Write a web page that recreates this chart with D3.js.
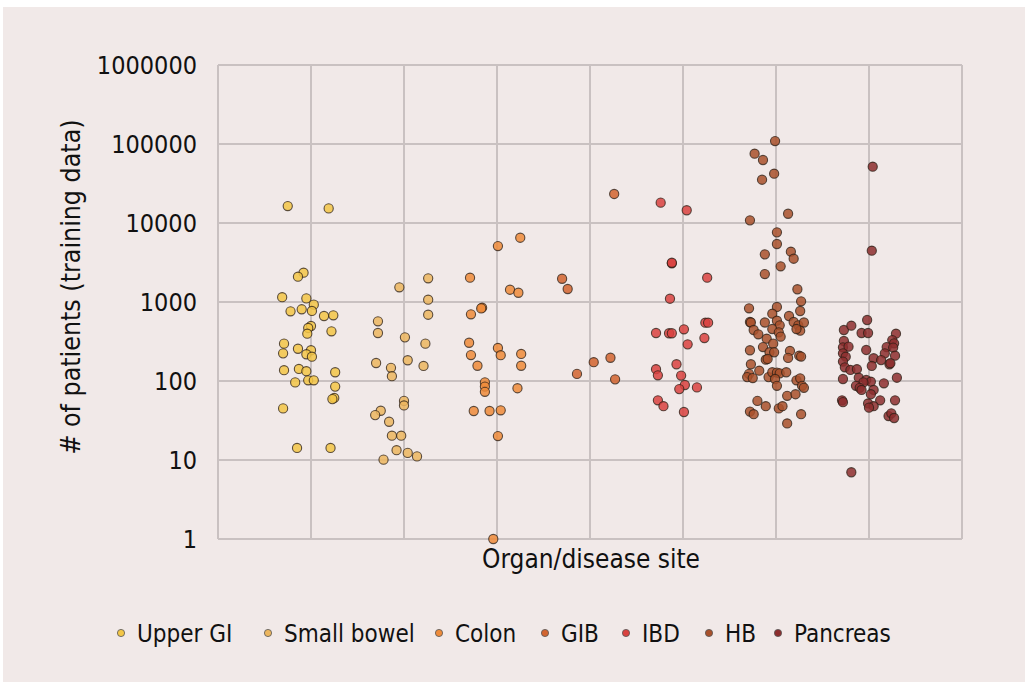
<!DOCTYPE html>
<html>
<head>
<meta charset="utf-8">
<script src="https://cdn.jsdelivr.net/npm/d3@7"></script>
<style>
  html, body { margin: 0; padding: 0; background: #ffffff; }
  svg { display: block; }
  text { font-family: "DejaVu Sans Condensed", "DejaVu Sans", sans-serif; fill: #111; }
</style>
</head>
<body>
<svg width="1025" height="682"></svg>
<script>
// categories (x position 1..7 on the scatter), colours
var seriesNames = ["Upper GI", "Small bowel", "Colon", "GIB", "IBD", "HB", "Pancreas"];
var seriesColors = ["#f3c647", "#ecb65f", "#ee8b3a", "#d2642f", "#d9423f", "#a9512b", "#8d2e2e"];
var yTicks = [1, 10, 100, 1000, 10000, 100000, 1000000];

// # of patients, with the horizontal jitter (in category units)
var upperGIValues = [16400, 15300, 2350, 2090, 1150, 1110, 925, 763, 809, 770, 665, 679, 497, 469, 397, 426, 297, 224, 256, 245, 218, 203, 137, 142, 133, 129, 96, 102, 102, 85, 61, 59, 45, 14.2, 14.2];
var upperGIJitter = [-0.25, 0.19, -0.08, -0.14, -0.31, -0.05, 0.03, -0.22, -0.10, 0.01, 0.14, 0.24, 0.00, -0.03, -0.04, 0.22, -0.29, -0.30, -0.14, 0.00, -0.05, 0.01, -0.29, -0.13, -0.05, 0.26, -0.17, -0.03, 0.03, 0.26, 0.25, 0.23, -0.30, -0.15, 0.21];

var smallBowelValues = [1995, 1535, 1070, 690, 570, 405, 357, 297, 169, 147, 183, 155, 115, 56, 49, 42, 37, 30.5, 20.3, 20.3, 13.3, 12.3, 11.1, 10.1];
var smallBowelJitter = [0.26, -0.05, 0.26, 0.26, -0.28, -0.28, 0.01, 0.23, -0.30, -0.14, 0.04, 0.21, -0.13, 0.00, 0.00, -0.25, -0.31, -0.16, -0.13, -0.03, -0.08, 0.04, 0.14, -0.22];

var colonValues = [6510, 5110, 2030, 1430, 1310, 847, 830, 699, 305, 262, 212, 220, 213, 156, 156, 96, 85, 73, 81, 41.7, 41.7, 42.6, 20.1, 1];
var colonJitter = [0.25, 0.01, -0.29, 0.14, 0.23, -0.16, -0.17, -0.28, -0.30, 0.01, 0.04, 0.26, -0.28, -0.21, 0.26, -0.13, -0.13, -0.13, 0.22, -0.25, -0.08, 0.04, 0.01, -0.04];

var gibValues = [23300, 1970, 1460, 197, 173, 123, 105];
var gibJitter = [0.26, -0.30, -0.24, 0.22, 0.04, -0.14, 0.27];

var ibdValues = [18100, 14500, 3090, 3140, 2030, 1100, 547, 547, 405, 402, 402, 451, 350, 291, 163, 141, 118, 117, 89, 79, 83, 57, 48, 40.5];
var ibdJitter = [-0.24, 0.04, -0.12, -0.12, 0.26, -0.14, 0.24, 0.27, -0.29, -0.15, -0.12, 0.01, 0.23, 0.05, -0.07, -0.29, -0.27, -0.02, 0.02, -0.04, 0.15, -0.27, -0.21, 0.01];

var hbValues = [109000, 75400, 62700, 42100, 35300, 13100, 10800, 7620, 5420, 4010, 4330, 3530, 2830, 2260, 1450, 1020, 832, 865, 711, 769, 665, 558, 550, 550, 580, 507, 455, 442, 558, 507, 550, 433, 455, 390, 413, 364, 343, 269, 297, 231, 231, 245, 240, 186, 190, 196, 209, 204, 163, 135, 123, 112, 109, 112, 129, 128, 125, 129, 106, 87, 102, 108, 87, 82, 56, 48, 45, 48, 65, 68, 41, 38, 38, 29];
var hbJitter = [-0.01, -0.23, -0.14, -0.02, -0.15, 0.13, -0.28, 0.01, 0.01, -0.12, 0.16, 0.19, 0.05, -0.12, 0.23, 0.27, -0.29, 0.01, -0.04, 0.26, 0.14, -0.28, -0.27, -0.12, 0.01, 0.04, -0.04, -0.24, 0.19, 0.24, 0.30, 0.26, 0.22, -0.19, 0.03, 0.05, -0.10, -0.14, -0.03, -0.07, -0.02, -0.28, 0.15, -0.11, -0.09, 0.13, 0.25, 0.27, -0.27, -0.18, -0.29, -0.31, -0.25, -0.08, -0.04, 0.01, 0.04, 0.11, -0.01, 0.01, 0.22, 0.26, 0.28, 0.30, -0.20, -0.11, 0.03, 0.07, 0.12, 0.21, -0.28, -0.24, 0.27, 0.12];

var pancreasValues = [51600, 4460, 592, 442, 501, 405, 405, 397, 330, 300, 321, 267, 272, 269, 265, 247, 224, 203, 194, 224, 184, 209, 176, 155, 163, 168, 149, 138, 141, 106, 110, 110, 103, 98, 96, 93.5, 87, 82, 77, 77, 68, 57, 54, 57, 57, 52, 48, 46, 36, 39, 34, 7];
var pancreasJitter = [0.04, 0.03, -0.02, -0.27, -0.19, -0.08, -0.01, 0.29, 0.25, 0.27, -0.27, -0.28, -0.22, 0.19, 0.26, -0.03, -0.28, -0.25, 0.05, 0.17, 0.13, 0.28, -0.28, 0.03, 0.22, 0.23, -0.26, -0.20, -0.13, -0.28, 0.30, -0.11, -0.03, 0.02, -0.06, 0.16, -0.14, -0.10, -0.08, 0.05, 0.02, -0.29, -0.28, 0.12, 0.28, -0.01, 0.05, 0.00, 0.21, 0.24, 0.27, -0.19];

var allValues = [upperGIValues, smallBowelValues, colonValues, gibValues, ibdValues, hbValues, pancreasValues];
var allJitter = [upperGIJitter, smallBowelJitter, colonJitter, gibJitter, ibdJitter, hbJitter, pancreasJitter];

var svg = d3.select("svg");

// fundo
svg.append("rect").attr("x", 3).attr("y", 7).attr("width", 1022).attr("height", 675).attr("fill", "#f1e9e8");

var x = d3.scaleLinear().domain([0, 8]).range([218, 962]);
var y = d3.scaleLog().domain([1, 1000000]).range([539, 65]);

// grade
var grid = svg.append("g").attr("stroke", "#c9c1c1").attr("stroke-width", 2);
grid.selectAll("line.h").data(yTicks).enter().append("line")
    .attr("x1", x(0)).attr("x2", x(8))
    .attr("y1", d => y(d)).attr("y2", d => y(d));
grid.selectAll("line.v").data(d3.range(0, 9)).enter().append("line")
    .attr("x1", d => x(d)).attr("x2", d => x(d))
    .attr("y1", y(1000000)).attr("y2", y(1));

// eixo y
var yAxis = svg.append("g").attr("transform", "translate(" + x(0) + ",0)")
    .call(d3.axisLeft(y).tickValues(yTicks).tickFormat(d3.format("d")).tickSize(0).tickPadding(21));
yAxis.select(".domain").remove();
yAxis.selectAll("text").style("font-size", "25px").attr("fill", "#111");

svg.append("text")
    .attr("transform", "translate(80," + 287 + ") rotate(-90)")
    .attr("text-anchor", "middle")
    .style("font-size", "26.5px")
    .text("# of patients (training data)");

svg.append("text")
    .attr("x", 591).attr("y", 568)
    .attr("text-anchor", "middle")
    .style("font-size", "26px")
    .text("Organ/disease site");

// pontos
seriesNames.forEach(function (name, i) {
    var pts = allValues[i].map(function (v, j) { return { v: v, cx: i + 1 + allJitter[i][j] }; });
    svg.append("g").selectAll("circle").data(pts).enter().append("circle")
        .attr("cx", d => x(d.cx))
        .attr("cy", d => y(d.v))
        .attr("r", 4.6)
        .attr("fill", seriesColors[i])
        .attr("fill-opacity", 0.85)
        .attr("stroke", "#2a1d14")
        .attr("stroke-opacity", 0.75)
        .attr("stroke-width", 1.1);
});

// legenda
var legendX = [121, 268, 439, 545, 626, 709, 778];
var legend = svg.append("g");
seriesNames.forEach(function (name, i) {
    legend.append("circle").attr("cx", legendX[i]).attr("cy", 633).attr("r", 3.6)
        .attr("fill", seriesColors[i]).attr("stroke", "#555").attr("stroke-width", 0.8);
    legend.append("text").attr("x", legendX[i] + 16).attr("y", 642)
        .style("font-size", "24px").text(name);
});
</script>
</body>
</html>
